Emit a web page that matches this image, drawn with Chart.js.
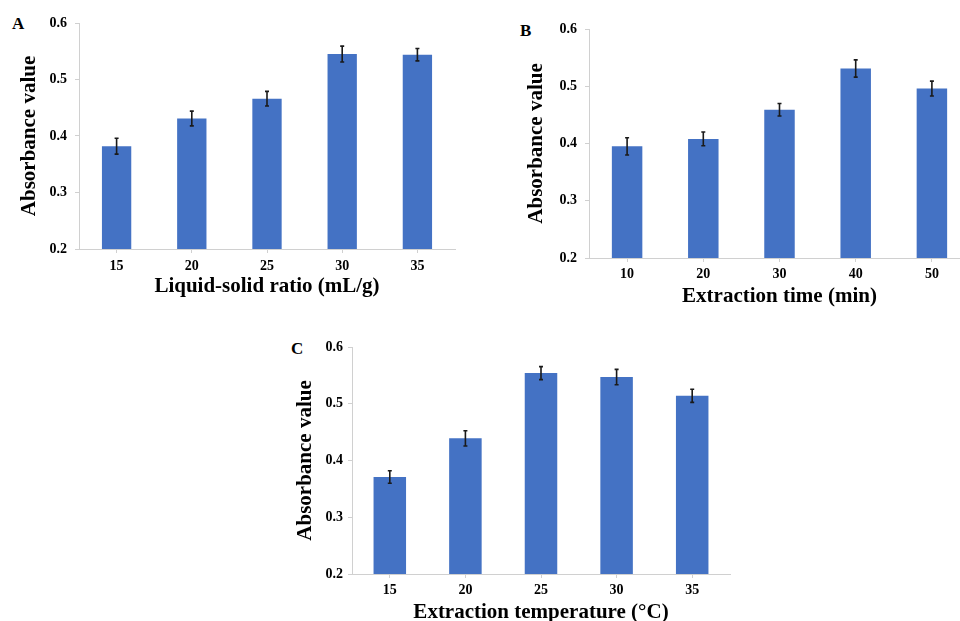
<!DOCTYPE html>
<html>
<head>
<meta charset="utf-8">
<script src="https://cdn.jsdelivr.net/npm/chart.js@4.4.1/dist/chart.umd.min.js"></script>
<style>
  html, body { margin: 0; padding: 0; background: #fff; overflow: hidden; width: 960px; height: 621px; }
  .panel { position: absolute; }
  .tag { position: absolute; font: bold 17px "Liberation Serif", "Times New Roman", serif; line-height: 17px; color: #000; }
</style>
</head>
<body>
<div class="tag" style="left:12px; top:15px;">A</div>
<div class="tag" style="left:520px; top:22px;">B</div>
<div class="tag" style="left:291px; top:340px;">C</div>

<div class="panel" style="left:0; top:0; width:470px; height:310px;"><canvas id="chartA"></canvas></div>
<div class="panel" style="left:480px; top:0; width:500px; height:320px;"><canvas id="chartB"></canvas></div>
<div class="panel" style="left:280px; top:320px; width:460px; height:320px;"><canvas id="chartC"></canvas></div>

<script>
// values (mean and +/- error)
const ratioLabels = ['15', '20', '25', '30', '35'];
const ratioValues = [0.382, 0.431, 0.466, 0.545, 0.544];
const ratioErrors = [0.014, 0.013, 0.013, 0.014, 0.011];

const timeLabels = ['10', '20', '30', '40', '50'];
const timeValues = [0.395, 0.408, 0.459, 0.531, 0.496];
const timeErrors = [0.015, 0.012, 0.011, 0.015, 0.013];

const tempLabels = ['15', '20', '25', '30', '35'];
const tempValues = [0.371, 0.439, 0.554, 0.547, 0.514];
const tempErrors = [0.011, 0.0135, 0.0115, 0.0135, 0.0115];

const yMin = 0.2, yMax = 0.6, yStep = 0.1;

const serif = '"Liberation Serif", "Times New Roman", serif';
const axisGray = '#d0d0d0';

// draws the error bars on top of each bar, using the chart's own scales
const errorBars = {
  id: 'errorBars',
  afterDatasetsDraw(chart) {
    const ctx = chart.ctx;
    const y = chart.scales.y;
    chart.data.datasets.forEach((ds, di) => {
      const meta = chart.getDatasetMeta(di);
      meta.data.forEach((bar, i) => {
        const e = ds.errors[i];
        const top = y.getPixelForValue(ds.data[i] + e);
        const bot = y.getPixelForValue(ds.data[i] - e);
        ctx.save();
        ctx.strokeStyle = '#1a1a1a';
        ctx.lineWidth = 1.6;
        ctx.beginPath();
        ctx.moveTo(bar.x, top); ctx.lineTo(bar.x, bot);
        ctx.moveTo(bar.x - 2, top); ctx.lineTo(bar.x + 2, top);
        ctx.moveTo(bar.x - 2, bot); ctx.lineTo(bar.x + 2, bot);
        ctx.stroke();
        ctx.restore();
      });
    });
  }
};

function makeChart(id, labels, values, errors, xTitle, g) {
  return new Chart(document.getElementById(id), {
    type: 'bar',
    data: {
      labels: labels,
      datasets: [{
        data: values,
        errors: errors,
        backgroundColor: '#4472C4',
        categoryPercentage: 1,
        barPercentage: g.bar
      }]
    },
    options: {
      responsive: true,
      maintainAspectRatio: false,
      animation: false,
      layout: { padding: { top: g.top, right: g.right, left: 0, bottom: 0 } },
      plugins: { legend: { display: false }, tooltip: { enabled: false } },
      scales: {
        x: {
          grid: { drawOnChartArea: false, drawTicks: true, tickLength: 4, offset: false, color: axisGray },
          border: { color: axisGray },
          ticks: { color: '#000', padding: g.xTickPad, font: { family: serif, size: 14, weight: 'bold' } },
          title: { display: true, text: xTitle, color: '#000', padding: { top: 0, bottom: g.xTitlePad },
                   font: { family: serif, size: 21, weight: 'bold' } },
          afterFit: s => { s.height = g.xHeight; }
        },
        y: {
          min: yMin, max: yMax,
          grid: { drawOnChartArea: false, drawTicks: true, tickLength: 4, color: axisGray },
          border: { color: axisGray },
          ticks: { stepSize: yStep, color: '#000', padding: g.yTickPad,
                   font: { family: serif, size: 14, weight: 'bold' },
                   callback: v => v.toFixed(1) },
          title: { display: true, text: 'Absorbance value', color: '#000', padding: { top: g.yTitlePad, bottom: 0 },
                   font: { family: serif, size: 21, weight: 'bold' } },
          afterFit: s => { s.width = g.yWidth; }
        }
      }
    },
    plugins: [errorBars]
  });
}

makeChart('chartA', ratioLabels, ratioValues, ratioErrors, 'Liquid-solid ratio (mL/g)',
  { top: 23, right: 15, yWidth: 79, xHeight: 61, bar: 0.39, xTickPad: 5, xTitlePad: 11, yTickPad: 8, yTitlePad: 17 });

makeChart('chartB', timeLabels, timeValues, timeErrors, 'Extraction time (min)',
  { top: 29, right: 10, yWidth: 109, xHeight: 62, bar: 0.40, xTickPad: 4, xTitlePad: 11, yTickPad: 8, yTitlePad: 44 });

makeChart('chartC', tempLabels, tempValues, tempErrors, 'Extraction temperature (°C)',
  { top: 27, right: 10, yWidth: 72, xHeight: 66, bar: 0.43, xTickPad: 4, xTitlePad: 15, yTickPad: 5, yTitlePad: 13 });
</script>
</body>
</html>
